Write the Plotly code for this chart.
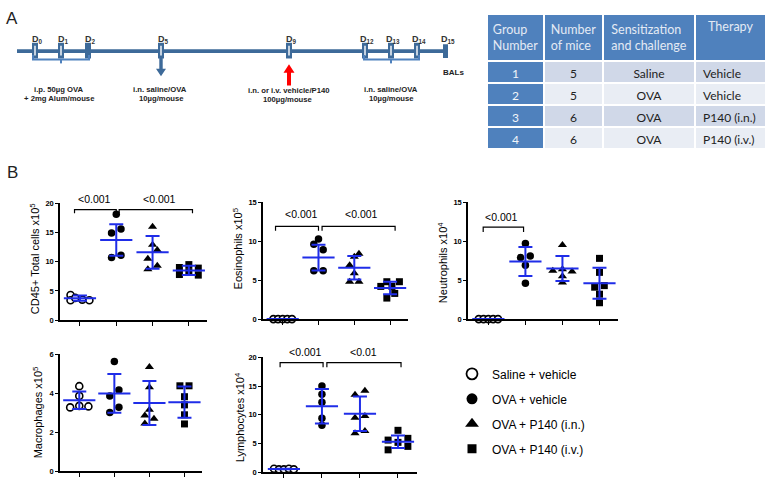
import plotly.graph_objects as go

W, H = 774, 490
def PX(x): return x / W
def PY(y): return 1 - y / H

FONT = "Liberation Sans"
MEAN_BLUE = "#1F2DE8"
TL_BLUE = "#3D6A99"
BRACE_BLUE = "#4F81BD"
NB = "\u00a0"

# ---------------- data ----------------
group_names = ["Saline + vehicle", "OVA + vehicle", "OVA + P140 (i.n.)", "OVA + P140 (i.v.)"]

cd45_values = [[4.3, 3.4, 3.8, 3.5, 3.4], [18.1, 15.6, 14.9, 11.1, 10.7],
               [16.0, 12.9, 12.0, 10.5, 9.3, 8.7], [9.5, 9.0, 8.9, 8.3, 7.8, 7.7]]
cd45_slots = [[-2, -2, -1, 0.5, 2], [0, 1, -1, 1, -1], [0, 0, 1, -1, 1, -1], [0, -2, 2, 0, -2, 2]]
cd45_mean = [3.75, 13.7, 11.6, 8.5]
cd45_sd = [0.45, 2.7, 2.8, 0.8]

eos_values = [[0, 0, 0, 0, 0], [10.3, 9.6, 8.9, 6.2, 6.2],
              [8.4, 8.0, 6.9, 5.9, 4.8, 4.8], [4.8, 4.8, 4.2, 4.2, 3.3, 2.7]]
eos_slots = [[-2, -1, 0, 1, 2], [0, -1, 1, -1, 1], [1, 0, -1, 0, -1, 1], [-0.7, 2, 0.4, -2, 1, -0.7]]
eos_mean = [0, 7.9, 6.6, 4.0]
eos_sd = [0, 1.65, 1.5, 0.8]

neu_values = [[0, 0, 0, 0, 0], [9.7, 7.9, 8.1, 6.9, 4.6],
              [9.5, 6.2, 6.1, 6.4, 5.5, 4.7], [7.8, 6.0, 4.1, 4.3, 3.2, 2.1]]
neu_slots = [[-2, -1, 0, 1, 2], [0, -1, 1, 0, 0], [0, -2, 2, 0, 0, 0], [0, 0, -1, 1, 0, 0]]
neu_mean = [0, 7.4, 6.5, 4.6]
neu_sd = [0, 1.85, 1.6, 2.0]

mac_values = [[4.37, 3.87, 3.28, 3.36, 3.33], [5.64, 4.17, 3.87, 3.29, 3.02],
              [5.36, 4.31, 3.16, 2.87, 2.70, 2.45], [4.39, 4.39, 3.83, 3.41, 2.90, 2.43]]
mac_slots = [[0, 0, -2, 0, 2], [0, 1, -1, 1, -1], [0, 0, 0, -1, 1, -1], [-1, 1, 0, 0, 0, 0]]
mac_mean = [3.65, 4.0, 3.5, 3.55]
mac_sd = [0.45, 1.0, 1.13, 0.8]

lym_values = [[0.6, 0.5, 0.5, 0.6, 0.5], [15.0, 13.6, 12.2, 9.4, 8.2],
              [13.5, 14.2, 9.5, 9.8, 6.8, 7.2], [7.3, 5.6, 5.9, 5.2, 3.9, 4.5]]
lym_slots = [[-2, -1, 0, 1, 2], [0, 0, 0, 0, 0], [-1, 1, -1, 1, -1, 1], [0, -2, 2, 0, -2, 2]]
lym_mean = [0.55, 11.5, 10.2, 5.3]
lym_sd = [0.05, 3.0, 3.0, 1.1]

table_header = ["Group<br>Number", "Number<br>of mice", "Sensitization<br>and challenge", "Therapy"]
table_group = ["1", "2", "3", "4"]
table_mice = ["5", "5", "6", "6"]
table_sens = ["Saline", "OVA", "OVA", "OVA"]
table_therapy = ["Vehicle", "Vehicle", "P140 (i.n.)", "P140 (i.v.)"]

timeline_days = ["0", "1", "2", "5", "9", "12", "13", "14", "15"]

# ---------------- layout constants ----------------
SLOT = 0.13
styles = [
    dict(symbol="circle", size=7, color="white", line=dict(color="black", width=1.6)),
    dict(symbol="circle", size=7.5, color="black", line=dict(color="black", width=0)),
    dict(symbol="triangle-up", size=8, color="black", line=dict(color="black", width=0)),
    dict(symbol="square", size=7, color="black", line=dict(color="black", width=0)),
]
legend_sizes = [11, 11, 12, 9]

panels = [
    dict(title="CD45+ Total cells x10<sup>5</sup>", vals=cd45_values, slots=cd45_slots, mean=cd45_mean, sd=cd45_sd,
         yr=[0, 20], tv=[0, 5, 10, 15, 20], box=(60, 207, 203, 322), txy=(35, 260),
         br=[(-0.15, 1.0, 18.9, 18.3, "&lt;0.001", 0.4, 20.8), (1.08, 3.1, 18.9, 18.3, "&lt;0.001", 2.2, 20.8)]),
    dict(title="Eosinophils x10<sup>5</sup>", vals=eos_values, slots=eos_slots, mean=eos_mean, sd=eos_sd,
         yr=[0, 15], tv=[0, 5, 10, 15], box=(263, 408, 202, 321), txy=(238, 249),
         br=[(-0.2, 1.0, 11.9, 11.35, "&lt;0.001", 0.53, 13.5), (1.1, 3.14, 11.9, 11.35, "&lt;0.001", 2.2, 13.5)]),
    dict(title="Neutrophils x10<sup>4</sup>", vals=neu_values, slots=neu_slots, mean=neu_mean, sd=neu_sd,
         yr=[0, 15], tv=[0, 5, 10, 15], box=(468, 618, 202, 321), txy=(443, 264),
         br=[(-0.14, 0.95, 11.8, 11.2, "&lt;0.001", 0.35, 13.1)]),
    dict(title="Macrophages x10<sup>5</sup>", vals=mac_values, slots=mac_slots, mean=mac_mean, sd=mac_sd,
         yr=[0, 6], tv=[0, 2, 4, 6], box=(60, 202, 357, 476), txy=(38, 416), br=[]),
    dict(title="Lymphocytes x10<sup>4</sup>", vals=lym_values, slots=lym_slots, mean=lym_mean, sd=lym_sd,
         yr=[0, 20], tv=[0, 5, 10, 15, 20], box=(263, 417, 360, 477), txy=(240, 421),
         br=[(-0.1, 1.03, 19.1, 18.3, "&lt;0.001", 0.58, 20.9), (1.13, 3.08, 19.1, 18.3, "&lt;0.01", 2.08, 20.9)]),
]

fig = go.Figure()
shapes = []
annotations = []

for i, p in enumerate(panels):
    n = "" if i == 0 else str(i + 1)
    xa, ya = "x" + n, "y" + n
    for g in range(4):
        xs = [g + s * SLOT for s in p["slots"][g]]
        st = styles[g]
        fig.add_trace(go.Scatter(x=xs, y=p["vals"][g], mode="markers", xaxis=xa, yaxis=ya,
                                 marker=dict(symbol=st["symbol"], size=st["size"], color=st["color"], line=st["line"]),
                                 cliponaxis=False, showlegend=False, hoverinfo="skip"))
    fig.add_trace(go.Scatter(x=[0, 1, 2, 3], y=p["mean"], mode="markers", xaxis=xa, yaxis=ya,
                             marker=dict(symbol="line-ew", size=23, color=MEAN_BLUE, line=dict(color=MEAN_BLUE, width=2)),
                             error_y=dict(type="data", array=p["sd"], color=MEAN_BLUE, thickness=2, width=7),
                             cliponaxis=False, showlegend=False, hoverinfo="skip"))
    x0, x1, y0, y1 = p["box"]
    fig.layout["xaxis" + n] = dict(domain=[PX(x0), PX(x1)], range=[-0.55, 3.5], anchor=ya, showline=True,
                                   linecolor="black", linewidth=1.5, ticks="outside", tickvals=[0, 1, 2, 3],
                                   ticklen=4, tickwidth=1.3, tickcolor="black", showticklabels=False,
                                   showgrid=False, zeroline=False, fixedrange=True)
    fig.layout["yaxis" + n] = dict(domain=[PY(y1), PY(y0)], range=p["yr"], anchor=xa, showline=True,
                                   linecolor="black", linewidth=1.5, ticks="outside", tickvals=p["tv"],
                                   ticklen=3, tickwidth=1.3, tickcolor="black",
                                   tickfont=dict(family=FONT, size=7.5, color="black", weight="bold"),
                                   showgrid=False, zeroline=False, fixedrange=True)
    annotations.append(dict(text=p["title"], x=PX(p["txy"][0]), y=PY(p["txy"][1]), xref="paper", yref="paper",
                            textangle=-90, showarrow=False, font=dict(family=FONT, size=11, color="black"),
                            xanchor="center", yanchor="middle"))
    for (bx0, bx1, yt, yd, lab, lx, ly) in p["br"]:
        shapes.append(dict(type="path", xref=xa, yref=ya,
                           path=f"M {bx0},{yd} L {bx0},{yt} L {bx1},{yt} L {bx1},{yd}",
                           line=dict(color="black", width=1.2)))
        annotations.append(dict(text=lab, x=lx, y=ly / p["yr"][1], xref=xa, yref=ya + " domain", showarrow=False,
                                font=dict(family=FONT, size=10.5, color="black"), xanchor="center", yanchor="middle"))

# legend entries
for g in range(4):
    st = styles[g]
    fig.add_trace(go.Scatter(x=[None], y=[None], mode="markers", name=group_names[g], legendgroup=str(g),
                             marker=dict(symbol=st["symbol"], size=legend_sizes[g], color=st["color"],
                                         line=dict(color="black", width=1.8 if g == 0 else 0))))

# table
col_fill_a, col_fill_b = "#D0D8E8", "#E9EDF4"
alt = [col_fill_a, col_fill_b, col_fill_a, col_fill_b]
fig.add_trace(go.Table(
    domain=dict(x=[PX(487), PX(766)], y=[PY(160), PY(10)]),
    columnwidth=[57, 59, 92, 71],
    header=dict(values=[h.replace(" ", NB) for h in table_header], fill_color="#4F81BD", align="center", height=45,
                font=dict(family="Lato", size=12.5, color="#E4EAF4"), line=dict(color="white", width=2)),
    cells=dict(values=[table_group, table_mice, table_sens, [t.replace(" ", NB) for t in table_therapy]],
               fill_color=[["#4F81BD"] * 4, alt, alt, alt],
               align=["center", "center", "center", "left"], height=22,
               font=dict(family="Lato", size=12, color=["#F2F5FA", "#222222", "#222222", "#222222"]),
               line=dict(color="white", width=2)),
))

# ---------------- timeline diagram (panel A) ----------------
def rect(x0, x1, y0, y1, color):
    return dict(type="rect", xref="paper", yref="paper", x0=PX(x0), x1=PX(x1), y0=PY(y1), y1=PY(y0),
                fillcolor=color, line=dict(width=0), layer="above")

def path(pts, color, fill=None, width=2):
    d = "M " + " L ".join(f"{PX(a):.5f},{PY(b):.5f}" for a, b in pts)
    if fill:
        d += " Z"
    return dict(type="path", xref="paper", yref="paper", path=d,
                fillcolor=fill if fill else "rgba(0,0,0,0)",
                line=dict(color=color, width=width if not fill else 0), layer="above")

day_x = [35, 61, 88, 161, 289, 365, 391, 417, 446]
shapes.append(rect(17, 447, 46, 50, TL_BLUE))
for k, dx in enumerate(day_x[:-1]):
    shapes.append(rect(dx - 3, dx + 3, 39.5, 55.5, TL_BLUE))
    if timeline_days[k] != "2":
        shapes.append(rect(dx - 0.7, dx + 0.7, 42.5, 52.5, "white"))
shapes.append(rect(443, 448, 41, 55, TL_BLUE))
for k, dx in enumerate(day_x):
    annotations.append(dict(text=f"<b>D<sub>{timeline_days[k]}</sub></b>", x=PX(dx + 2), y=PY(36),
                            xref="paper", yref="paper", showarrow=False, xanchor="center", yanchor="middle",
                            font=dict(family=FONT, size=9, color="#333333")))
# braces
shapes.append(path([(33, 52), (33, 56.5), (89, 56.5), (89, 52)], BRACE_BLUE, width=2))
shapes.append(path([(61, 56.5), (61, 60.5)], BRACE_BLUE, width=2))
shapes.append(path([(364, 52), (364, 56.5), (419, 56.5), (419, 52)], BRACE_BLUE, width=2))
shapes.append(path([(391, 56.5), (391, 60.5)], BRACE_BLUE, width=2))
# arrows
shapes.append(path([(159.3, 54), (162.7, 54), (162.7, 66), (166, 66), (161, 73.5), (156, 66), (159.3, 66)],
                   TL_BLUE, fill=TL_BLUE))
shapes.append(path([(287, 83), (291, 83), (291, 70), (294.5, 70), (289, 61.5), (283.5, 70), (287, 70)],
                   "#FF0000", fill="#FF0000"))

def note(txt, x, y, size=7.7, bold=True, anchor="center"):
    annotations.append(dict(text=f"<b>{txt}</b>" if bold else txt, x=PX(x), y=PY(y), xref="paper", yref="paper",
                            showarrow=False, xanchor=anchor, yanchor="middle",
                            font=dict(family=FONT, size=size, color="#222222")))

note("i.p. 50µg OVA", 59, 87.3)
note("+ 2mg Alum/mouse", 59, 95.8)
note("i.n. saline/OVA", 160, 87.3)
note("10µg/mouse", 161, 95.8)
note("i.n. or i.v. vehicle/P140", 288, 88.3)
note("100µg/mouse", 288, 96.8)
note("i.n. saline/OVA", 391, 87.3)
note("10µg/mouse", 391, 95.8)
note("BALs", 453, 69.5, size=8)
note("A", 12, 14.5, size=17, bold=False)
note("B", 12, 171.5, size=17, bold=False)

fig.update_layout(
    width=W, height=H, margin=dict(l=0, r=0, t=0, b=0),
    paper_bgcolor="white", plot_bgcolor="rgba(0,0,0,0)",
    shapes=shapes, annotations=annotations,
    showlegend=True,
    legend=dict(x=PX(452), y=PY(362), xanchor="left", yanchor="top", bgcolor="rgba(0,0,0,0)",
                font=dict(family=FONT, size=12, color="black"), tracegroupgap=6, itemsizing="trace"),
)

fig.write_html("out.html", config={"displayModeBar": False},
               post_script="document.body.style.margin='0px';")
